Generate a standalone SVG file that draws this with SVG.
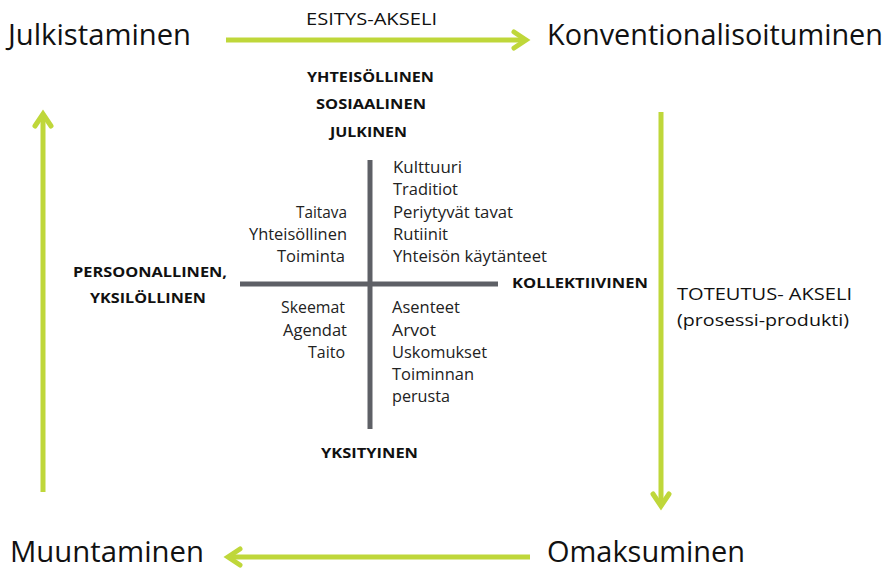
<svg xmlns="http://www.w3.org/2000/svg" width="887" height="570" viewBox="0 0 887 570">
  <style>
    text { font-family: "Open Sans", Lato, sans-serif; }
    .stage { font-size: 29px; fill: #111; }
    .axis { font-size: 16.5px; fill: #111; }
    .cap { font-size: 14.5px; font-weight: bold; fill: #111; }
    .item { font-size: 15.5px; fill: #222; }
    .flow { stroke: #bfd73a; stroke-width: 5; fill: none; }
    .head { stroke: #bfd73a; stroke-width: 5; fill: none; stroke-linecap: round; stroke-linejoin: miter; }
    .cross { stroke: #5e6066; stroke-width: 5; }
  </style>

  <!-- process stages -->
  <g id="julkistaminen"><text class="stage" x="8" y="45" textLength="183" lengthAdjust="spacingAndGlyphs">Julkistaminen</text></g>
  <g id="konventionalisoituminen"><text class="stage" x="547" y="45" textLength="336" lengthAdjust="spacingAndGlyphs">Konventionalisoituminen</text></g>
  <g id="omaksuminen"><text class="stage" x="547" y="562" textLength="198" lengthAdjust="spacingAndGlyphs">Omaksuminen</text></g>
  <g id="muuntaminen"><text class="stage" x="10" y="562" textLength="194" lengthAdjust="spacingAndGlyphs">Muuntaminen</text></g>

  <!-- cycle arrows -->
  <g id="connectors">
    <line class="flow" x1="226" y1="40" x2="524" y2="40"/>
    <polyline class="head" points="514,32 526,40 514,48"/>
    <line class="flow" x1="661" y1="112" x2="661" y2="504"/>
    <polyline class="head" points="653,494 661,506 669,494"/>
    <line class="flow" x1="530" y1="557" x2="230" y2="557"/>
    <polyline class="head" points="240,549 228,557 240,565"/>
    <line class="flow" x1="43" y1="492" x2="43" y2="116"/>
    <polyline class="head" points="35,126 43,114 51,126"/>
  </g>

  <!-- axis labels -->
  <g id="esitys-akseli"><text class="axis" x="306" y="25" textLength="131" lengthAdjust="spacingAndGlyphs">ESITYS-AKSELI</text></g>
  <g id="toteutus-akseli">
    <text class="axis" x="677" y="300" textLength="175" lengthAdjust="spacingAndGlyphs">TOTEUTUS- AKSELI</text>
    <text class="axis" x="677" y="326" textLength="172" lengthAdjust="spacingAndGlyphs">(prosessi-produkti)</text>
  </g>

  <!-- quadrant cross -->
  <g id="cross">
    <line class="cross" x1="370" y1="160" x2="370" y2="429"/>
    <line class="cross" x1="240" y1="284" x2="498" y2="284"/>
  </g>

  <g id="pole-top">
    <text class="cap" x="307" y="82" textLength="127" lengthAdjust="spacingAndGlyphs">YHTEISÖLLINEN</text>
    <text class="cap" x="316" y="109" textLength="110" lengthAdjust="spacingAndGlyphs">SOSIAALINEN</text>
    <text class="cap" x="330" y="137" textLength="77" lengthAdjust="spacingAndGlyphs">JULKINEN</text>
  </g>
  <g id="pole-left">
    <text class="cap" x="73" y="277" textLength="154" lengthAdjust="spacingAndGlyphs">PERSOONALLINEN,</text>
    <text class="cap" x="90" y="303" textLength="116" lengthAdjust="spacingAndGlyphs">YKSILÖLLINEN</text>
  </g>
  <g id="pole-right"><text class="cap" x="512" y="288" textLength="136" lengthAdjust="spacingAndGlyphs">KOLLEKTIIVINEN</text></g>
  <g id="pole-bottom"><text class="cap" x="321" y="458" textLength="97" lengthAdjust="spacingAndGlyphs">YKSITYINEN</text></g>

  <g id="quadrant-upper-left">
    <text class="item" x="296" y="218" textLength="51" lengthAdjust="spacingAndGlyphs">Taitava</text>
    <text class="item" x="249" y="240" textLength="98" lengthAdjust="spacingAndGlyphs">Yhteisöllinen</text>
    <text class="item" x="277" y="262" textLength="68" lengthAdjust="spacingAndGlyphs">Toiminta</text>
  </g>
  <g id="quadrant-upper-right">
    <text class="item" x="393" y="173" textLength="69" lengthAdjust="spacingAndGlyphs">Kulttuuri</text>
    <text class="item" x="393" y="195" textLength="65" lengthAdjust="spacingAndGlyphs">Traditiot</text>
    <text class="item" x="393" y="218" textLength="120" lengthAdjust="spacingAndGlyphs">Periytyvät tavat</text>
    <text class="item" x="393" y="240" textLength="55" lengthAdjust="spacingAndGlyphs">Rutiinit</text>
    <text class="item" x="393" y="262" textLength="154" lengthAdjust="spacingAndGlyphs">Yhteisön käytänteet</text>
  </g>
  <g id="quadrant-lower-left">
    <text class="item" x="281" y="313" textLength="64" lengthAdjust="spacingAndGlyphs">Skeemat</text>
    <text class="item" x="283" y="336" textLength="64" lengthAdjust="spacingAndGlyphs">Agendat</text>
    <text class="item" x="308" y="358" textLength="37" lengthAdjust="spacingAndGlyphs">Taito</text>
  </g>
  <g id="quadrant-lower-right">
    <text class="item" x="392" y="313" textLength="68" lengthAdjust="spacingAndGlyphs">Asenteet</text>
    <text class="item" x="392" y="336" textLength="44" lengthAdjust="spacingAndGlyphs">Arvot</text>
    <text class="item" x="392" y="358" textLength="95" lengthAdjust="spacingAndGlyphs">Uskomukset</text>
    <text class="item" x="392" y="380" textLength="82" lengthAdjust="spacingAndGlyphs">Toiminnan</text>
    <text class="item" x="392" y="402" textLength="58" lengthAdjust="spacingAndGlyphs">perusta</text>
  </g>
</svg>
